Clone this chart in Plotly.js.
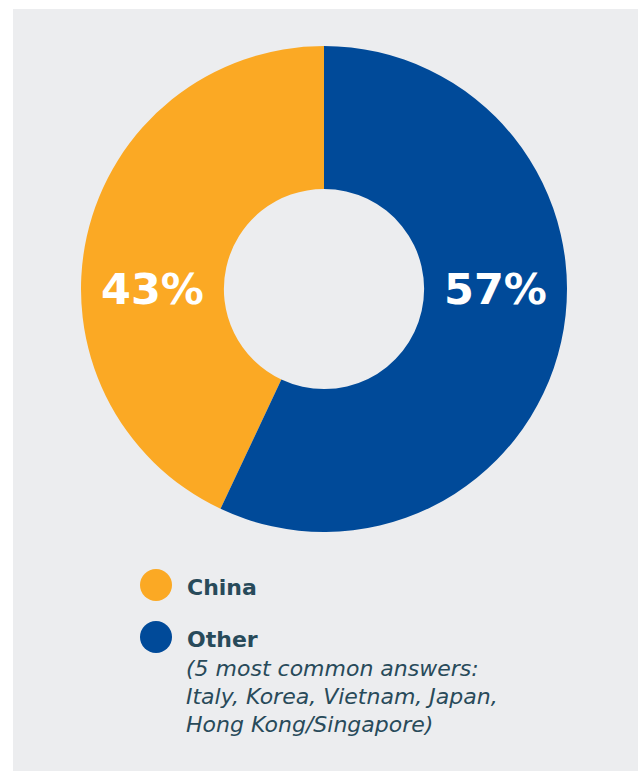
<!DOCTYPE html>
<html><head><meta charset="utf-8">
<script src="https://cdn.plot.ly/plotly-3.0.1.min.js"></script>
<style>
html,body{margin:0;padding:0;background:#ffffff;width:638px;height:771px;overflow:hidden;}
#chart{position:absolute;left:13px;top:9px;width:625px;height:762px;}
</style></head>
<body><div id="chart"></div>
<script>
const categories = ["China", "Other"];
const values = [43, 57];
const colors = ["#FBA924", "#004A99"];
const valueLabels = ["43%", "57%"];
const legendTitles = ["China", "Other"];
const otherNote = ["(5 most common answers:", "Italy, Korea, Vietnam, Japan,", "Hong Kong/Singapore)"];

const W = 625, H = 762;
const cx = 311, cy = 280, R = 243;
const hole = 0.412;
const dom = {x: [(cx - R) / W, (cx + R) / W], y: [(H - cy - R) / H, (H - cy + R) / H]};
const textColor = "#284A5A";
const font = "DejaVu Sans, sans-serif";
const total = values.reduce((a, b) => a + b, 0);

// China occupies the left side, ending at 12 o'clock
const trace = {
  type: "pie", labels: categories, values: values, sort: false,
  direction: "clockwise", rotation: -360 * values[0] / total, hole: hole,
  marker: {colors: colors, line: {width: 0}},
  textinfo: "none", hoverinfo: "none", showlegend: false, domain: dom
};

const midR = R * (1 + hole) / 2;
const annotations = [];
[-1, 1].forEach((s, i) => {
  annotations.push({
    xref: "paper", yref: "paper", x: (cx + s * midR) / W, y: (H - cy) / H,
    xanchor: "center", yanchor: "middle", showarrow: false,
    text: "<b>" + valueLabels[i] + "</b>",
    font: {family: font, size: 43, color: "#ffffff"}
  });
});
const legendY = [576, 628];
const shapes = [];
legendY.forEach((y, i) => {
  shapes.push({type: "circle", xref: "paper", yref: "paper",
    x0: (143 - 16) / W, x1: (143 + 16) / W, y0: (H - y - 16) / H, y1: (H - y + 16) / H,
    fillcolor: colors[i], line: {width: 0}});
  annotations.push({xref: "paper", yref: "paper", x: 172 / W, y: (H - (y + 2)) / H,
    xanchor: "left", yanchor: "middle", showarrow: false,
    text: "<b>" + legendTitles[i] + "</b>",
    font: {family: font, size: 22, color: textColor}});
});
const noteBase = [659, 687, 715];
otherNote.forEach((t, i) => {
  annotations.push({xref: "paper", yref: "paper", x: 171 / W, y: (H - noteBase[i]) / H,
    xanchor: "left", yanchor: "middle", showarrow: false,
    text: "<i>" + t + "</i>",
    font: {family: font, size: 22, color: textColor}});
});

Plotly.newPlot("chart", [trace], {
  width: W, height: H, margin: {l: 0, r: 0, t: 0, b: 0},
  paper_bgcolor: "#ECEDEF", plot_bgcolor: "#ECEDEF",
  showlegend: false, annotations: annotations, shapes: shapes
}, {displayModeBar: false, staticPlot: true});
</script></body></html>
